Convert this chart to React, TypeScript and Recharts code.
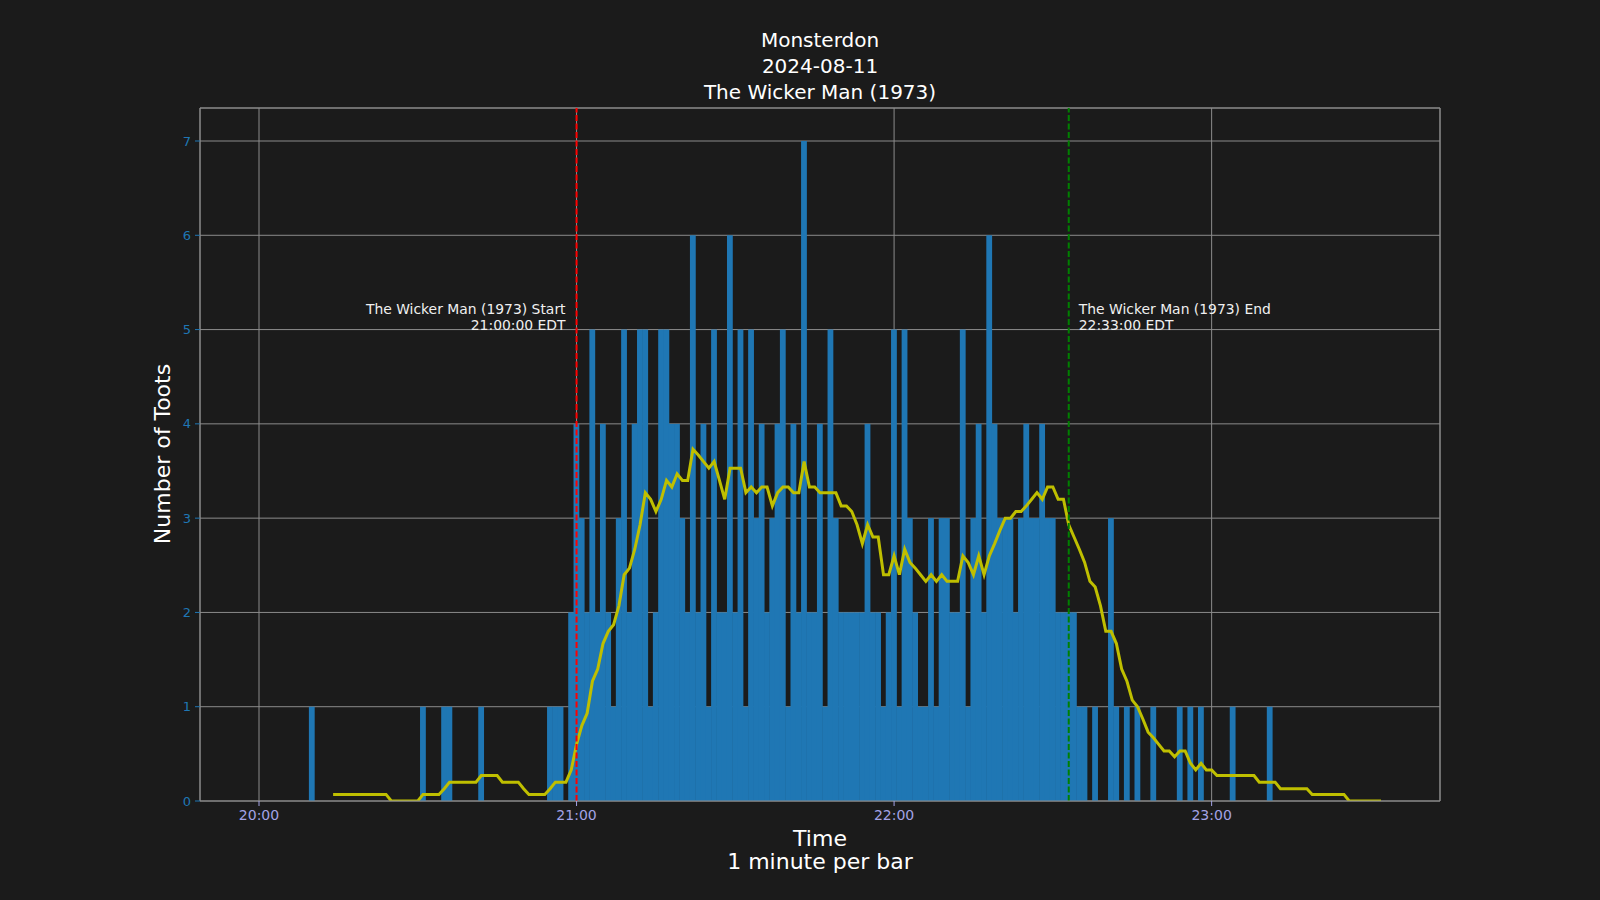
import {
  Bar,
  CartesianGrid,
  ComposedChart,
  Line,
  ReferenceLine,
  XAxis,
  YAxis,
} from "recharts";

// toots per minute, one array per hour (index 0 = hh:00)
const counts20h = [
  0, 0, 0, 0, 0, 0, 0, 0, 0, 0,
  1, 0, 0, 0, 0, 0, 0, 0, 0, 0,
  0, 0, 0, 0, 0, 0, 0, 0, 0, 0,
  0, 1, 0, 0, 0, 1, 1, 0, 0, 0,
  0, 0, 1, 0, 0, 0, 0, 0, 0, 0,
  0, 0, 0, 0, 0, 1, 1, 1, 0, 2,
];
const counts21h = [
  4, 3, 2, 5, 2, 4, 2, 1, 3, 5,
  2, 4, 5, 5, 1, 2, 5, 5, 4, 4,
  3, 2, 6, 2, 4, 1, 5, 2, 2, 6,
  2, 5, 1, 5, 3, 4, 2, 3, 4, 5,
  1, 4, 2, 7, 2, 2, 4, 1, 5, 3,
  2, 2, 2, 2, 2, 4, 2, 2, 1, 2,
];
const counts22h = [
  5, 1, 5, 3, 2, 1, 1, 3, 1, 3,
  3, 2, 2, 5, 1, 3, 4, 2, 6, 4,
  3, 3, 3, 2, 3, 4, 3, 3, 4, 3,
  3, 2, 2, 2, 2, 1, 1, 0, 1, 0,
  0, 3, 1, 0, 1, 0, 1, 0, 0, 1,
  0, 0, 0, 0, 1, 0, 1, 0, 1, 0,
];
const counts23h = [
  0, 0, 0, 0, 1, 0, 0, 0, 0, 0,
  0, 1, 0, 0, 0, 0, 0, 0, 0, 0,
  0, 0, 0, 0, 0, 0, 0, 0, 0, 0,
  0, 0, 0,
];

// 15 minute rolling average
const avg20h = [
  null, null, null, null, null, null, null, null, null, null,
  null, null, null, null, 0.07, 0.07, 0.07, 0.07, 0.07, 0.07,
  0.07, 0.07, 0.07, 0.07, 0.07, 0, 0, 0, 0, 0,
  0, 0.07, 0.07, 0.07, 0.07, 0.13, 0.2, 0.2, 0.2, 0.2,
  0.2, 0.2, 0.27, 0.27, 0.27, 0.27, 0.2, 0.2, 0.2, 0.2,
  0.13, 0.07, 0.07, 0.07, 0.07, 0.13, 0.2, 0.2, 0.2, 0.33,
];
const avg21h = [
  0.6, 0.8, 0.93, 1.27, 1.4, 1.67, 1.8, 1.87, 2.07, 2.4,
  2.47, 2.67, 2.93, 3.27, 3.2, 3.07, 3.2, 3.4, 3.33, 3.47,
  3.4, 3.4, 3.73, 3.67, 3.6, 3.53, 3.6, 3.4, 3.2, 3.53,
  3.53, 3.53, 3.27, 3.33, 3.27, 3.33, 3.33, 3.13, 3.27, 3.33,
  3.33, 3.27, 3.27, 3.6, 3.33, 3.33, 3.27, 3.27, 3.27, 3.27,
  3.13, 3.13, 3.07, 2.93, 2.73, 2.93, 2.8, 2.8, 2.4, 2.4,
];
const avg22h = [
  2.6, 2.4, 2.67, 2.53, 2.47, 2.4, 2.33, 2.4, 2.33, 2.4,
  2.33, 2.33, 2.33, 2.6, 2.53, 2.4, 2.6, 2.4, 2.6, 2.73,
  2.87, 3, 3, 3.07, 3.07, 3.13, 3.2, 3.27, 3.2, 3.33,
  3.33, 3.2, 3.2, 2.93, 2.8, 2.67, 2.53, 2.33, 2.27, 2.07,
  1.8, 1.8, 1.67, 1.4, 1.27, 1.07, 1, 0.87, 0.73, 0.67,
  0.6, 0.53, 0.53, 0.47, 0.53, 0.53, 0.4, 0.33, 0.4, 0.33,
];
const avg23h = [
  0.33, 0.27, 0.27, 0.27, 0.27, 0.27, 0.27, 0.27, 0.27, 0.2,
  0.2, 0.2, 0.2, 0.13, 0.13, 0.13, 0.13, 0.13, 0.13, 0.07,
  0.07, 0.07, 0.07, 0.07, 0.07, 0.07, 0, 0, 0, 0,
  0, 0, 0,
];

const timeTicks = [0, 60, 120, 180];
const timeLabels = ["20:00", "21:00", "22:00", "23:00"];
const countTicks = [0, 1, 2, 3, 4, 5, 6, 7];

const titleLines = ["Monsterdon", "2024-08-11", "The Wicker Man (1973)"];
const startMark = { t: 60, lines: ["The Wicker Man (1973) Start", "21:00:00 EDT"] };
const endMark = { t: 153, lines: ["The Wicker Man (1973) End", "22:33:00 EDT"] };

const counts = [...counts20h, ...counts21h, ...counts22h, ...counts23h];
const avgs = [...avg20h, ...avg21h, ...avg22h, ...avg23h];
const data = counts.map((c, i) => ({ t: i, count: c, avg: avgs[i] }));

const FONT = "'DejaVu Sans', sans-serif";
const BG = "#1b1b1b";
const GRID = "#8c8c8c";
const X_DOMAIN = [-11.15, 223.15];
const Y_TOP = 7.35;

function SolidBar(props: any) {
  const { x, y, width, height, fill } = props;
  if (!height || height <= 0) return <g />;
  // widen a hair so neighbouring bars merge like matplotlib's
  return <rect x={x - 0.4} y={y} width={width + 0.8} height={height} fill={fill} />;
}

function markLabel(lines: string[], side: "left" | "right") {
  return (props: any) => {
    const vb = props.viewBox;
    const x = side === "left" ? vb.x - 11 : vb.x + 10;
    return (
      <text
        x={x}
        y={vb.y + 206}
        textAnchor={side === "left" ? "end" : "start"}
        fill="#f0f0f0"
        fontSize={13.9}
        fontFamily={FONT}
      >
        {lines.map((l, i) => (
          <tspan key={i} x={x} dy={i === 0 ? 0 : 16}>
            {l}
          </tspan>
        ))}
      </text>
    );
  };
}

export default function App() {
  return (
    <div
      style={{
        position: "absolute",
        left: 0,
        top: 0,
        width: 1600,
        height: 900,
        background: BG,
        fontFamily: FONT,
        color: "#ffffff",
      }}
    >
      <div
        style={{
          position: "absolute",
          left: 520,
          width: 600,
          top: 27,
          textAlign: "center",
          fontSize: 20,
          lineHeight: "26px",
        }}
      >
        {titleLines.map((l) => (
          <div key={l}>{l}</div>
        ))}
      </div>

      <ComposedChart
        width={1600}
        height={900}
        data={data}
        margin={{ top: 108, right: 160, bottom: 0, left: 0 }}
        barCategoryGap={0}
        barGap={0}
      >
        <XAxis
          dataKey="t"
          type="number"
          domain={X_DOMAIN}
          allowDataOverflow
          ticks={timeTicks}
          tickFormatter={(v) => timeLabels[timeTicks.indexOf(v)]}
          height={99}
          tick={{ fill: "#a3a3e6", fontSize: 14, fontFamily: FONT }}
          tickLine={{ stroke: "#a3a3e6" }}
          tickSize={5}
          tickMargin={4}
          axisLine={{ stroke: GRID }}
        />
        <YAxis
          type="number"
          domain={[0, Y_TOP]}
          allowDataOverflow
          ticks={countTicks}
          width={200}
          tick={{ fill: "#1f77b4", fontSize: 13, fontFamily: FONT }}
          tickLine={{ stroke: "#1f77b4" }}
          tickSize={5}
          tickMargin={4}
          axisLine={{ stroke: GRID }}
        />
        <Bar
          dataKey="count"
          fill="#1f77b4"
          shape={SolidBar}
          isAnimationActive={false}
        />
        <CartesianGrid stroke={GRID} strokeWidth={1} />
        <ReferenceLine y={Y_TOP} stroke={GRID} />
        <ReferenceLine x={X_DOMAIN[1]} stroke={GRID} />
        <Line
          dataKey="avg"
          type="linear"
          stroke="#bfbf00"
          strokeWidth={3}
          dot={false}
          activeDot={false}
          connectNulls={false}
          isAnimationActive={false}
        />
        <ReferenceLine
          x={startMark.t}
          stroke="#ff0000"
          strokeWidth={2}
          strokeDasharray="6 2.5"
          label={markLabel(startMark.lines, "left")}
        />
        <ReferenceLine
          x={endMark.t}
          stroke="#008000"
          strokeWidth={2}
          strokeDasharray="6 2.5"
          label={markLabel(endMark.lines, "right")}
        />
      </ComposedChart>

      <div
        style={{
          position: "absolute",
          left: 520,
          width: 600,
          top: 827,
          textAlign: "center",
          fontSize: 22,
          lineHeight: "23px",
        }}
      >
        <div>Time</div>
        <div>1 minute per bar</div>
      </div>
      <div
        style={{
          position: "absolute",
          left: 163 - 150,
          top: 454 - 13,
          width: 300,
          height: 26,
          lineHeight: "26px",
          textAlign: "center",
          fontSize: 22,
          transform: "rotate(-90deg)",
        }}
      >
        Number of Toots
      </div>
    </div>
  );
}
